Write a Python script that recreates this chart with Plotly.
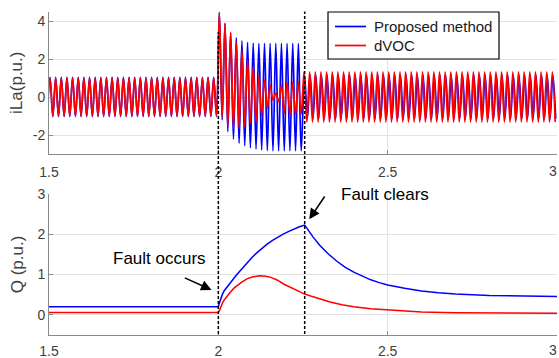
import plotly.graph_objects as go

# ---------------- data ----------------
F_HZ = 60.0                 # grid frequency
FIRST_CREST = 1.503         # time of the first positive crest (s)
events = [2.0, 2.255]       # fault inception / fault clearing (s)

series_names = ["Proposed method", "dVOC"]

# Phase-a current crests/troughs per cycle (p.u.)
# pre-fault: 30 cycles, fault: 15 cycles, post-fault: 45 cycles
prop_pre_crest = [1.03] * 30
prop_pre_trough = [-1.03] * 30
prop_fault_crest = [4.45, 3.88, 3.40, 3.12, 2.96, 2.88, 2.84, 2.82, 2.82, 2.82,
                    2.82, 2.82, 2.82, 2.82, 2.82]
prop_fault_trough = [-1.21, -1.82, -2.23, -2.44, -2.56, -2.67, -2.74, -2.79, -2.82, -2.84,
                     -2.84, -2.84, -2.84, -2.84, -2.84]
prop_post_crest = [1.15] * 45
prop_post_trough = [-1.15] * 45

dvoc_pre_crest = [1.0] * 30
dvoc_pre_trough = [-1.0] * 30
dvoc_fault_crest = [4.45, 3.88, 3.40, 2.90, 2.47, 1.95, 1.60, 1.10, 0.90, 0.63,
                    0.20, 0.63, 0.80, 0.80, 0.80]
dvoc_fault_trough = [-1.03, -1.56, -1.65, -1.65, -1.56, -1.40, -1.30, -0.95, -0.60, -0.16,
                     -0.25, -0.85, -0.95, -0.90, -0.90]
dvoc_post_crest = [1.32] * 45
dvoc_post_trough = [-1.32] * 45

# Reactive power (p.u.)
q_prop_t = [1.5, 2.0, 2.002, 2.005, 2.0076, 2.0125, 2.0174, 2.028, 2.039, 2.05, 2.06,
            2.07, 2.08, 2.09, 2.1, 2.115, 2.13, 2.145, 2.16, 2.175, 2.19, 2.205, 2.22,
            2.2375, 2.255,
            2.265, 2.28, 2.3, 2.325, 2.35, 2.375, 2.4, 2.425, 2.45, 2.475, 2.5, 2.55,
            2.6, 2.65, 2.7, 2.8, 2.9, 3.0]
q_prop = [0.2, 0.2, 0.27, 0.35, 0.42, 0.52, 0.6, 0.72, 0.84, 0.95, 1.05,
          1.15, 1.25, 1.34, 1.43, 1.55, 1.66, 1.76, 1.85, 1.93, 2.0, 2.06, 2.12,
          2.18, 2.23,
          2.1, 1.93, 1.72, 1.51, 1.33, 1.18, 1.06, 0.96, 0.87, 0.8, 0.74, 0.66,
          0.59, 0.55, 0.52, 0.48, 0.465, 0.455]
q_dvoc_t = [1.5, 2.0, 2.003, 2.0076, 2.0125, 2.0174, 2.027, 2.037, 2.047, 2.0567, 2.07,
            2.086, 2.1, 2.1205, 2.14, 2.155, 2.175, 2.194, 2.215, 2.235, 2.2535, 2.275,
            2.293, 2.33, 2.365, 2.4, 2.45, 2.5, 2.55, 2.6, 2.7, 2.85, 3.0]
q_dvoc = [0.06, 0.06, 0.1, 0.22, 0.3, 0.37, 0.48, 0.58, 0.67, 0.74, 0.82,
          0.9, 0.94, 0.97, 0.96, 0.93, 0.86, 0.76, 0.67, 0.59, 0.52, 0.46,
          0.41, 0.32, 0.25, 0.2, 0.15, 0.12, 0.09, 0.07, 0.05, 0.04, 0.04]

x_ticks = [1.5, 2, 2.5, 3]
x_tick_text = ["1.5", "2", "2.5", "3"]
i_ticks = [-2, 0, 2, 4]
i_tick_text = ["-2", "0", "2", "4"]
q_ticks = [0, 1, 2, 3]
q_tick_text = ["0", "1", "2", "3"]


def crest_sequence(crests, troughs, post_shift=0.0, n_post=45):
    """Alternating crest/trough points, one per half cycle."""
    half = 0.5 / F_HZ
    ts = [FIRST_CREST - half]
    vs = [troughs[0]]
    n = len(crests)
    for k, (c, tr) in enumerate(zip(crests, troughs)):
        shift = post_shift if k >= n - n_post else 0.0
        tc = FIRST_CREST + k / F_HZ + shift
        ts += [tc, tc + half]
        vs += [c, tr]
    return ts, vs


prop_t, prop_i = crest_sequence(prop_pre_crest + prop_fault_crest + prop_post_crest,
                                prop_pre_trough + prop_fault_trough + prop_post_trough,
                                post_shift=0.0015)
dvoc_t, dvoc_i = crest_sequence(dvoc_pre_crest + dvoc_fault_crest + dvoc_post_crest,
                                dvoc_pre_trough + dvoc_fault_trough + dvoc_post_trough)

# ---------------- styling ----------------
FONT = "Liberation Sans, Arial, Helvetica, sans-serif"
BLUE = "#0000ff"
RED = "#ff0000"
TXT = "#404040"
AX = "#8a8a8a"
GRID = "#e3e3e3"
W, H = 559, 358
L_M, R_M = 49, 2
PLOT_W = W - L_M - R_M


def px_x(p):
    """horizontal pixel -> paper fraction of the plot area"""
    return (p - L_M) / PLOT_W


def px_y(p):
    """vertical pixel -> paper fraction"""
    return 1 - p / H


fig = go.Figure()

fig.add_trace(go.Scatter(x=prop_t, y=prop_i, mode="lines", name=series_names[0],
                         line=dict(color=BLUE, width=1.7, shape="spline"),
                         xaxis="x", yaxis="y"))
fig.add_trace(go.Scatter(x=dvoc_t, y=dvoc_i, mode="lines", name=series_names[1],
                         line=dict(color=RED, width=1.7, shape="spline"),
                         xaxis="x", yaxis="y"))
fig.add_trace(go.Scatter(x=q_prop_t, y=q_prop, mode="lines",
                         line=dict(color=BLUE, width=1.5),
                         xaxis="x2", yaxis="y2"))
fig.add_trace(go.Scatter(x=q_dvoc_t, y=q_dvoc, mode="lines",
                         line=dict(color=RED, width=1.5),
                         xaxis="x2", yaxis="y2"))

axis_common = dict(showline=True, linecolor=AX, linewidth=1, ticks="inside", ticklen=4,
                   tickcolor=AX, showgrid=True, gridcolor=GRID, gridwidth=1, zeroline=False,
                   automargin=False,
                   tickfont=dict(family=FONT, size=14, color=TXT))

# the last x tick label sits at the right edge; it is drawn separately, right-aligned
x_tick_text_inner = x_tick_text[:-1] + [""]

fig.update_layout(
    width=W, height=H,
    margin=dict(l=L_M, r=R_M, t=0, b=0, autoexpand=False),
    paper_bgcolor="white", plot_bgcolor="white",
    font=dict(family=FONT, color=TXT),
    showlegend=False,
    xaxis=dict(domain=[0, 1], range=[1.5, 3], tickvals=x_ticks, ticktext=x_tick_text_inner,
               anchor="y", ticklabelstandoff=5, **axis_common),
    yaxis=dict(domain=[px_y(154), px_y(11.5)], range=[-3, 4.5], tickvals=i_ticks,
               ticktext=i_tick_text, anchor="x",
               title=dict(text="iLa(p.u.)", font=dict(family=FONT, size=17, color=TXT), standoff=5),
               **axis_common),
    xaxis2=dict(domain=[0, 1], range=[1.5, 3], tickvals=x_ticks, ticktext=x_tick_text_inner,
                anchor="y2", ticklabelstandoff=3, **axis_common),
    yaxis2=dict(domain=[px_y(335), px_y(194)], range=[-0.5, 3], tickvals=q_ticks,
                ticktext=q_tick_text, anchor="x2",
                title=dict(text="Q (p.u.)", font=dict(family=FONT, size=17, color=TXT), standoff=9),
                **axis_common),
)

for row_y in [171, 350]:
    fig.add_annotation(xref="paper", yref="paper", x=px_x(559), y=px_y(row_y),
                       xanchor="right", yanchor="middle", text=x_tick_text[-1],
                       showarrow=False, font=dict(family=FONT, size=14, color=TXT))

# event markers spanning both panels
line_tops = [px_y(32), px_y(11.5)]
for t_ev, top in zip(events, line_tops):
    fig.add_shape(type="line", xref="x", yref="paper", x0=t_ev, x1=t_ev,
                  y0=px_y(334), y1=top, layer="above",
                  line=dict(color="black", width=1.5, dash="3px,2px"))

# legend box for the current panel
fig.add_shape(type="rect", xref="paper", yref="paper",
              x0=px_x(328), x1=px_x(499), y0=px_y(59), y1=px_y(12),
              fillcolor="white", line=dict(color="black", width=1.2), layer="above")
for name, col, row_y in zip(series_names, [BLUE, RED], [26.5, 45.5]):
    fig.add_shape(type="line", xref="paper", yref="paper",
                  x0=px_x(335), x1=px_x(366), y0=px_y(row_y), y1=px_y(row_y),
                  line=dict(color=col, width=1.7), layer="above")
    fig.add_annotation(xref="paper", yref="paper", x=px_x(372), y=px_y(row_y),
                       xanchor="left", yanchor="middle", text=name, showarrow=False,
                       font=dict(family=FONT, size=15, color="#1a1a1a"))

# annotations in the Q panel
fig.add_annotation(xref="x2", yref="y2", x=1.8248, y=1.39, text="Fault occurs",
                   showarrow=False, font=dict(family=FONT, size=17, color="black"))
fig.add_annotation(xref="x2", yref="y2", x=1.980, y=0.62, ax=1.8965, ay=0.935,
                   axref="x2", ayref="y2", text="", showarrow=True,
                   arrowhead=2, arrowsize=1.4, arrowwidth=1.5, arrowcolor="black")
fig.add_annotation(xref="x2", yref="y2", x=2.493, y=3.0, text="Fault clears",
                   showarrow=False, font=dict(family=FONT, size=17, color="black"))
fig.add_annotation(xref="x2", yref="y2", x=2.2685, y=2.373, ax=2.317, ay=2.975,
                   axref="x2", ayref="y2", text="", showarrow=True,
                   arrowhead=2, arrowsize=1.4, arrowwidth=1.5, arrowcolor="black")

fig.write_html("out.html")
